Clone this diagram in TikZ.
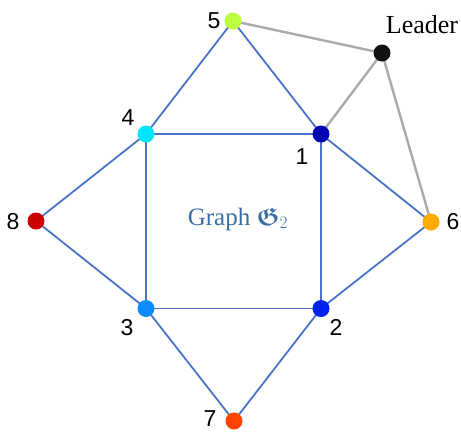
\documentclass[tikz,border=0pt]{standalone}
\usepackage{amsmath, amssymb}
\usepackage{fontspec}
\setmainfont{Liberation Serif}
\setsansfont{Liberation Sans}
\usetikzlibrary{calc, backgrounds}
\definecolor{edgeblue}{HTML}{4A73C8}
\definecolor{edgegray}{HTML}{AAAAAA}
\definecolor{titleblue}{HTML}{3A6EA5}
\definecolor{vlime}{HTML}{BDFF3D}
\definecolor{vcyan}{HTML}{00E5FF}
\definecolor{vnavy}{HTML}{0000B3}
\definecolor{vred}{HTML}{CC0000}
\definecolor{vorange}{HTML}{FFAA00}
\definecolor{vsky}{HTML}{0D8BFF}
\definecolor{vblue}{HTML}{0022EE}
\definecolor{vvermilion}{HTML}{FF4400}
\definecolor{vblack}{HTML}{111111}

\begin{document}
\begin{tikzpicture}[
  x=1pt, y=-1pt,
  vertex/.style={circle, inner sep=0pt, minimum size=17pt},
  lbl/.style={font=\sffamily\fontsize{23}{26}\selectfont, inner sep=0pt},
  ring/.style={edgeblue, line width=1.8pt},
  lead/.style={edgegray, line width=2.4pt}
]
  \useasboundingbox (0,0) rectangle (461,432);

  % Vertices
  \node[vertex, fill=vlime]      (n5) at (233,21)    {};
  \node[vertex, fill=vblack]     (nL) at (382,53)    {};
  \node[vertex, fill=vcyan]      (n4) at (146,134)   {};
  \node[vertex, fill=vnavy]      (n1) at (321,134)   {};
  \node[vertex, fill=vred]       (n8) at (36,221)    {};
  \node[vertex, fill=vorange]    (n6) at (431,222)   {};
  \node[vertex, fill=vsky]       (n3) at (146,308.5) {};
  \node[vertex, fill=vblue]      (n2) at (321,308.5) {};
  \node[vertex, fill=vvermilion] (n7) at (234,421)   {};

  % Edges
  \begin{scope}[on background layer]
    \foreach \a/\b in {n5/n4, n5/n1, n4/n1, n4/n8, n4/n3, n1/n2, n1/n6,
                       n8/n3, n3/n2, n3/n7, n2/n7, n2/n6}
      \draw[ring] (\a.center) -- (\b.center);
    \foreach \a/\b in {n5/nL, nL/n1, nL/n6}
      \draw[lead] (\a.center) -- (\b.center);
  \end{scope}

  % Labels
  \node[lbl] (l5) at ($(n5)+(-19,0)$)   {5};
  \node[lbl] (l4) at ($(n4)+(-18,-16)$) {4};
  \node[lbl] (l1) at ($(n1)+(-19,23)$)  {1};
  \node[lbl] (l8) at ($(n8)+(-23,1)$)   {8};
  \node[lbl] (l6) at ($(n6)+(22,0)$)    {6};
  \node[lbl] (l3) at ($(n3)+(-19,19)$)  {3};
  \node[lbl] (l2) at ($(n2)+(15,19)$)   {2};
  \node[lbl] (l7) at ($(n7)+(-24,-2)$)  {7};
  \node[font=\fontsize{26}{30}\selectfont, inner sep=0pt]
    (lL) at ($(nL)+(40,-28)$) {Leader};

  \node[titleblue, font=\fontsize{25}{30}\selectfont, inner sep=0pt]
    (title) at (238,219) {Graph $\boldsymbol{\mathfrak{G}}_2$};
\end{tikzpicture}
\end{document}
